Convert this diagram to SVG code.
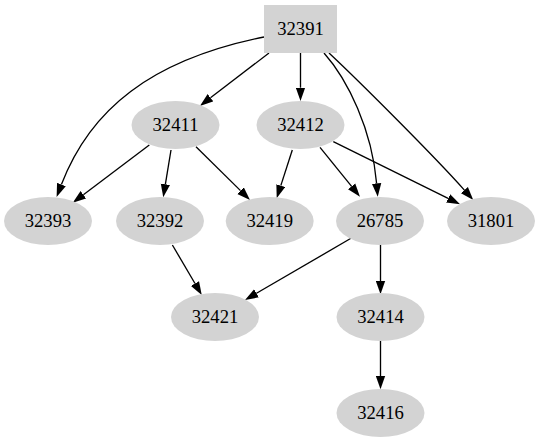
<svg xmlns="http://www.w3.org/2000/svg" width="540" height="443" viewBox="0 0 540 443">
<style>
.n{fill:#d3d3d3;stroke:none}
.t{font-family:"Liberation Serif","Times New Roman",serif;font-size:18.67px;text-anchor:middle;fill:#000}
.e{fill:none;stroke:#000;stroke-width:1.33}
</style>
<defs>
<marker id="a" markerUnits="userSpaceOnUse" markerWidth="14" markerHeight="10" refX="0" refY="4.67" orient="auto" viewBox="0 0 14 9.34">
<path d="M0,0 L13.33,4.67 L0,9.34 Z" fill="#000"/>
</marker>
</defs>
<rect width="540" height="443" fill="#fff"/>
<g id="edges">
<path class="e" marker-end="url(#a)" d="M264,37 C150,60 90,110 61.4,184.5"/>
<path class="e" marker-end="url(#a)" d="M269,53 L210.5,97.8"/>
<path class="e" marker-end="url(#a)" d="M300.5,53 L300.5,87.7"/>
<path class="e" marker-end="url(#a)" d="M324,53 C348,80 372,130 376.6,183.4"/>
<path class="e" marker-end="url(#a)" d="M329,53 C360,82 435,157 464.4,190.1"/>
<path class="e" marker-end="url(#a)" d="M149.3,145 L83.4,194.8"/>
<path class="e" marker-end="url(#a)" d="M171,150 L165.4,184.2"/>
<path class="e" marker-end="url(#a)" d="M196,146.7 L240.5,190.6"/>
<path class="e" marker-end="url(#a)" d="M292.3,150 L280.8,185.6"/>
<path class="e" marker-end="url(#a)" d="M320,147.3 L351.6,186.4"/>
<path class="e" marker-end="url(#a)" d="M333.3,141.7 L448.1,198.4"/>
<path class="e" marker-end="url(#a)" d="M172.4,245 L195,283.5"/>
<path class="e" marker-end="url(#a)" d="M351,238.3 L256.5,293.3"/>
<path class="e" marker-end="url(#a)" d="M380.5,245 L380.5,281"/>
<path class="e" marker-end="url(#a)" d="M380.5,341 L380.5,376"/>
</g>
<g id="n32391"><rect class="n" x="264" y="5" width="73" height="48"/><text class="t" x="300.5" y="35">32391</text></g>
<g id="n32411"><ellipse class="n" cx="175.5" cy="125" rx="44" ry="24"/><text class="t" x="175.5" y="131">32411</text></g>
<g id="n32412"><ellipse class="n" cx="300.5" cy="125" rx="44" ry="24"/><text class="t" x="300.5" y="131">32412</text></g>
<g id="n32393"><ellipse class="n" cx="48" cy="221" rx="44" ry="24"/><text class="t" x="48" y="227">32393</text></g>
<g id="n32392"><ellipse class="n" cx="160" cy="221" rx="44" ry="24"/><text class="t" x="160" y="227">32392</text></g>
<g id="n32419"><ellipse class="n" cx="269.7" cy="221" rx="44" ry="24"/><text class="t" x="269.7" y="227">32419</text></g>
<g id="n26785"><ellipse class="n" cx="380" cy="221" rx="44" ry="24"/><text class="t" x="380" y="227">26785</text></g>
<g id="n31801"><ellipse class="n" cx="491" cy="221" rx="44" ry="24"/><text class="t" x="491" y="227">31801</text></g>
<g id="n32421"><ellipse class="n" cx="215" cy="317" rx="44" ry="24"/><text class="t" x="215" y="323">32421</text></g>
<g id="n32414"><ellipse class="n" cx="380.5" cy="317" rx="44" ry="24"/><text class="t" x="380.5" y="323">32414</text></g>
<g id="n32416"><ellipse class="n" cx="380.5" cy="413" rx="44" ry="24"/><text class="t" x="380.5" y="419">32416</text></g>
</svg>
